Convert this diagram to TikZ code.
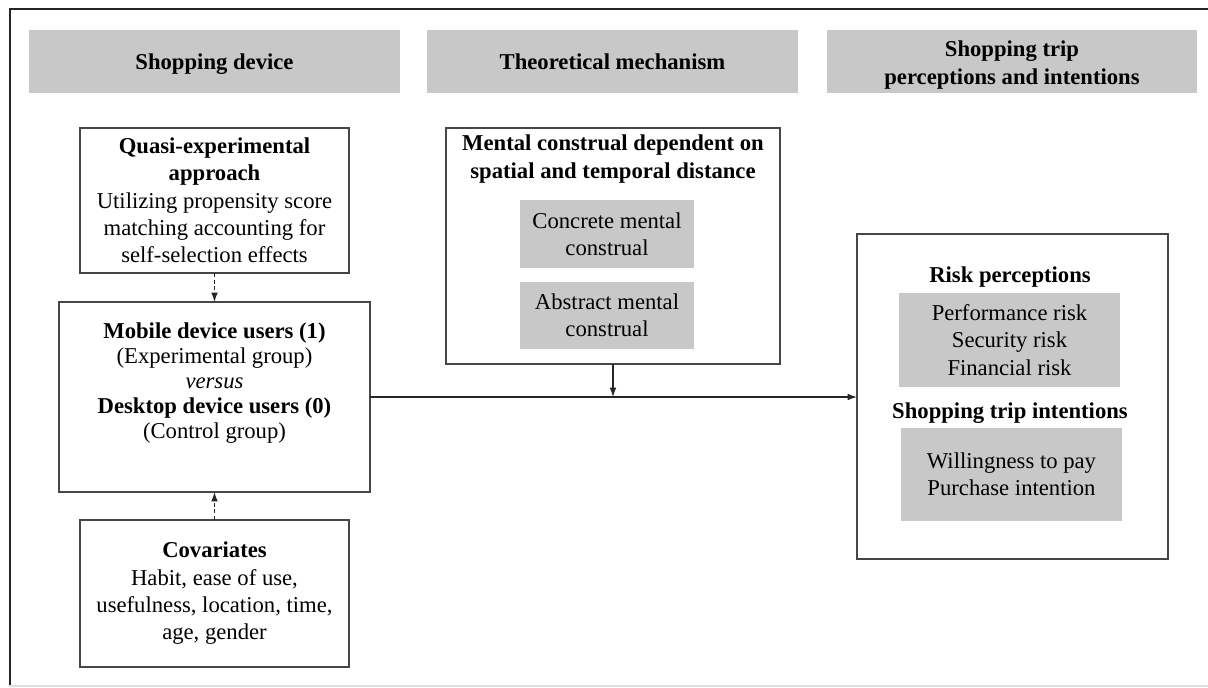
\documentclass[tikz,border=0pt]{standalone}
\usepackage{fontspec}
\setmainfont{Liberation Serif}
\usetikzlibrary{arrows.meta}
\definecolor{boxgray}{RGB}{200,200,200}
\definecolor{edgegray}{RGB}{70,70,70}

% rectangle given by its corners (in px), with optional text inside
\newcommand\pxbox[7]{%
  \node[#6, minimum width={(#4-#2)*0.75pt}, minimum height={(#5-#3)*0.75pt}]
    (#1) at ({(#2+#4)/2},{(#3+#5)/2}) {#7};}

\begin{document}
\begin{tikzpicture}[x=0.75pt, y=-0.75pt,
  base/.style={inner sep=0pt, outer sep=0pt, align=center,
    font=\fontsize{17}{20.5}\selectfont},
  frame/.style={base, draw=edgegray, line width=1pt, fill=white},
  shade/.style={base, fill=boxgray, draw=none},
  oneline/.style={text height=15.5pt, text depth=3.5pt},
  txt/.style={base},
  arr/.style={draw=black!85, line width=0.9pt, -{Latex[length=7pt,width=5pt]}},
  dasharr/.style={arr, dash pattern=on 3pt off 2pt}]

\useasboundingbox (0,0) rectangle (1208,687);

% outer frame
\draw[black!85, line width=1.5pt] (9.5,686) -- (9.5,8.5) -- (1208,8.5);
\draw[black!12, line width=1pt] (9,686) -- (1208,686);

% column headers
\pxbox{h1}{29}{30}{400}{93}{shade, oneline}{\textbf{Shopping device}}
\pxbox{h2}{427}{30}{798}{93}{shade, oneline}{\textbf{Theoretical mechanism}}
\pxbox{h3}{827}{30}{1197}{93}{shade}{}
\node[txt] (h3txt) at (1012,65) {\textbf{Shopping trip}\\\textbf{perceptions and intentions}};

% shopping device column
\pxbox{quasi}{80}{128}{349}{273}{frame}{\textbf{Quasi-experimental}\\\textbf{approach}\\Utilizing propensity score\\matching accounting for\\self-selection effects}
\pxbox{mobile}{59}{302}{370}{492}{frame}{}
\node[txt, font=\fontsize{17}{18.6}\selectfont] (mobiletxt) at (214.5,383)
  {\textbf{Mobile device users (1)}\\(Experimental group)\\\textit{versus}\\\textbf{Desktop device users (0)}\\(Control group)};
\pxbox{cov}{80}{520}{349}{667}{frame}{\textbf{Covariates}\\Habit, ease of use,\\usefulness, location, time,\\age, gender}

% theoretical mechanism column
\pxbox{mental}{446}{128}{780}{364}{frame}{}
\node[txt] (mentaltxt) at (613,159) {\textbf{Mental construal dependent on}\\\textbf{spatial and temporal distance}};
\pxbox{concrete}{520}{200}{694}{268}{shade}{Concrete mental\\construal}
\pxbox{abstract}{520}{282}{694}{349}{shade}{Abstract mental\\construal}

% outcomes column
\pxbox{outcome}{857}{234}{1168}{559}{frame}{}
\node[txt] (risktitle) at (1010,277) {\textbf{Risk perceptions}};
\pxbox{risk}{899}{293}{1120}{387}{shade}{Performance risk\\Security risk\\Financial risk}
\node[txt] (inttitle) at (1010,413) {\textbf{Shopping trip intentions}};
\pxbox{intent}{901}{428}{1122}{521}{shade}{Willingness to pay\\Purchase intention}

% connectors
\coordinate (join) at (mental.south |- 0,397);
\draw[dasharr] (quasi.south) -- (quasi.south |- mobile.north);
\draw[dasharr] (cov.north) -- (cov.north |- mobile.south);
\draw[arr] (mobile.east |- join) -- (outcome.west |- join);
\draw[arr] (mental.south) -- (join);
\end{tikzpicture}
\end{document}
